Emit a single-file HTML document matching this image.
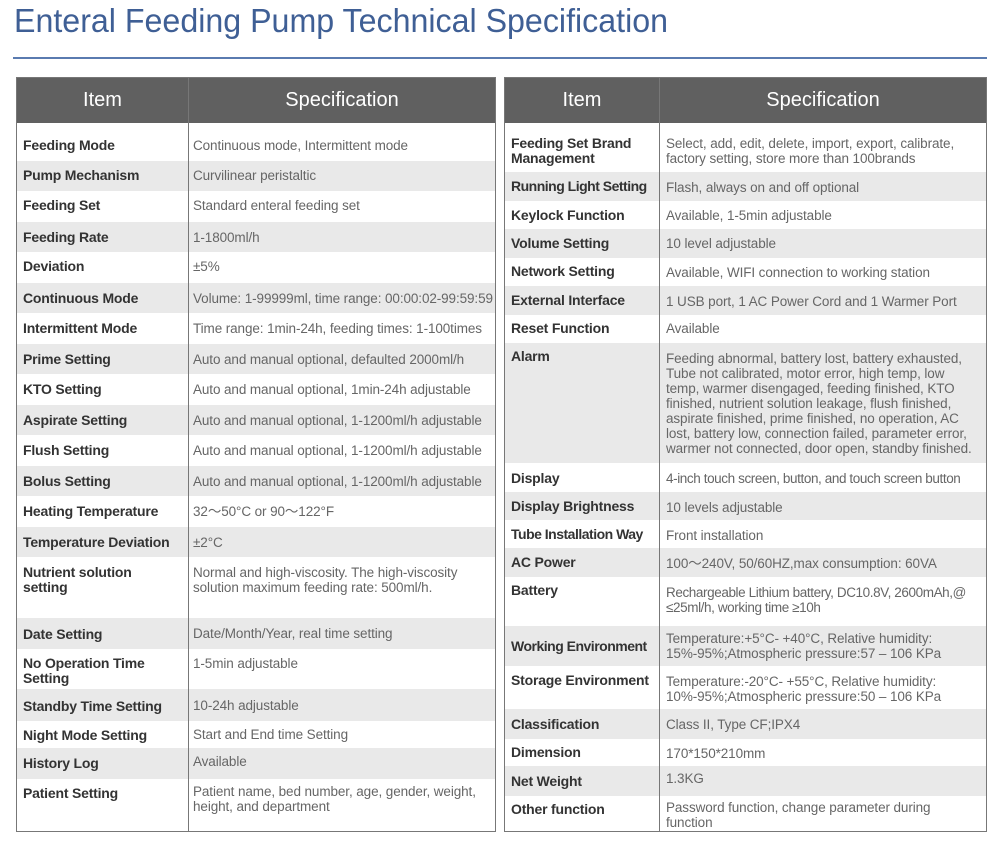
<!DOCTYPE html>
<html><head><meta charset="utf-8"><style>
body{margin:0;width:1000px;height:843px;background:#fff;position:relative;overflow:hidden;font-family:"Liberation Sans",sans-serif}
.title{position:absolute;left:14px;top:2px;font-size:33px;color:#3f5f95;white-space:nowrap;transform:scaleX(0.975);transform-origin:left top}
.rule{position:absolute;left:13px;top:57px;width:974px;height:2px;background:#5a7bb0}
.tbl{position:absolute;top:77px;height:755px;border:1px solid #777;box-sizing:border-box;background:#fff}
.hd{position:absolute;top:0;height:45px;background:#606060;color:#fff;font-size:20px;line-height:45px;text-align:center}
.row{position:absolute;left:0;right:0}
.g{background:#e9e9e9}
.k,.v{position:absolute;top:0;line-height:15px;white-space:nowrap}
.k{font-weight:bold;color:#333;font-size:14px;letter-spacing:-0.2px}
.v{color:#666;font-size:13.5px;letter-spacing:-0.1px}
.div{position:absolute;top:0;bottom:0;width:1px;background:#777}
</style></head><body>
<div class="title">Enteral Feeding Pump Technical Specification</div>
<div class="rule"></div>

<div class="tbl" style="left:16px;width:480px">
<div class="hd" style="left:0;width:171px">Item</div>
<div class="hd" style="left:172px;right:0">Specification</div>
<div class="row" style="top:45px;height:38px"><div class="k" style="left:6px;top:15px">Feeding Mode</div><div class="v" style="left:176px;top:15px">Continuous mode, Intermittent mode</div></div>
<div class="row g" style="top:83px;height:30px"><div class="k" style="left:6px;top:7px">Pump Mechanism</div><div class="v" style="left:176px;top:7px">Curvilinear peristaltic</div></div>
<div class="row" style="top:113px;height:31px"><div class="k" style="left:6px;top:7px">Feeding Set</div><div class="v" style="left:176px;top:7px">Standard enteral feeding set</div></div>
<div class="row g" style="top:144px;height:30px"><div class="k" style="left:6px;top:8px">Feeding Rate</div><div class="v" style="left:176px;top:8px">1-1800ml/h</div></div>
<div class="row" style="top:174px;height:31px"><div class="k" style="left:6px;top:7px">Deviation</div><div class="v" style="left:176px;top:7px">±5%</div></div>
<div class="row g" style="top:205px;height:30px"><div class="k" style="left:6px;top:8px">Continuous Mode</div><div class="v" style="left:176px;top:8px">Volume: 1-99999ml, time range: 00:00:02-99:59:59</div></div>
<div class="row" style="top:235px;height:31px"><div class="k" style="left:6px;top:8px">Intermittent Mode</div><div class="v" style="left:176px;top:8px">Time range: 1min-24h, feeding times: 1-100times</div></div>
<div class="row g" style="top:266px;height:30px"><div class="k" style="left:6px;top:8px">Prime Setting</div><div class="v" style="left:176px;top:8px">Auto and manual optional, defaulted 2000ml/h</div></div>
<div class="row" style="top:296px;height:31px"><div class="k" style="left:6px;top:8px">KTO Setting</div><div class="v" style="left:176px;top:8px">Auto and manual optional, 1min-24h adjustable</div></div>
<div class="row g" style="top:327px;height:30px"><div class="k" style="left:6px;top:8px">Aspirate Setting</div><div class="v" style="left:176px;top:8px">Auto and manual optional, 1-1200ml/h adjustable</div></div>
<div class="row" style="top:357px;height:31px"><div class="k" style="left:6px;top:8px">Flush Setting</div><div class="v" style="left:176px;top:8px">Auto and manual optional, 1-1200ml/h adjustable</div></div>
<div class="row g" style="top:388px;height:30px"><div class="k" style="left:6px;top:8px">Bolus Setting</div><div class="v" style="left:176px;top:8px">Auto and manual optional, 1-1200ml/h adjustable</div></div>
<div class="row" style="top:418px;height:31px"><div class="k" style="left:6px;top:8px">Heating Temperature</div><div class="v" style="left:176px;top:8px">32～50°C or 90～122°F</div></div>
<div class="row g" style="top:449px;height:30px"><div class="k" style="left:6px;top:8px">Temperature Deviation</div><div class="v" style="left:176px;top:8px">±2°C</div></div>
<div class="row" style="top:479px;height:61px"><div class="k" style="left:6px;top:8px">Nutrient solution<br>setting</div><div class="v" style="left:176px;top:8px">Normal and high-viscosity. The high-viscosity<br>solution maximum feeding rate: 500ml/h.</div></div>
<div class="row g" style="top:540px;height:31px"><div class="k" style="left:6px;top:9px">Date Setting</div><div class="v" style="left:176px;top:8px">Date/Month/Year, real time setting</div></div>
<div class="row" style="top:571px;height:40px"><div class="k" style="left:6px;top:7px">No Operation Time<br>Setting</div><div class="v" style="left:176px;top:7px">1-5min adjustable</div></div>
<div class="row g" style="top:611px;height:32px"><div class="k" style="left:6px;top:10px">Standby Time Setting</div><div class="v" style="left:176px;top:9px">10-24h adjustable</div></div>
<div class="row" style="top:643px;height:27px"><div class="k" style="left:6px;top:7px">Night Mode Setting</div><div class="v" style="left:176px;top:6px">Start and End time Setting</div></div>
<div class="row g" style="top:670px;height:31px"><div class="k" style="left:6px;top:8px">History Log</div><div class="v" style="left:176px;top:6px">Available</div></div>
<div class="row" style="top:701px;height:52px"><div class="k" style="left:6px;top:7px">Patient Setting</div><div class="v" style="left:176px;top:5px">Patient name, bed number, age, gender, weight,<br>height, and department</div></div>
<div class="div" style="left:171px"></div>
</div>

<div class="tbl" style="left:504px;width:483px">
<div class="hd" style="left:0;width:154px">Item</div>
<div class="hd" style="left:155px;right:0">Specification</div>
<div class="row" style="top:45px;height:49px"><div class="k" style="left:6px;top:13px">Feeding Set Brand<br>Management</div><div class="v" style="left:161px;top:13px">Select, add, edit, delete, import, export, calibrate,<br>factory setting, store more than 100brands</div></div>
<div class="row g" style="top:94px;height:29px"><div class="k" style="left:6px;top:7px;letter-spacing:-0.5px">Running Light Setting</div><div class="v" style="left:161px;top:8px">Flash, always on and off optional</div></div>
<div class="row" style="top:123px;height:28px"><div class="k" style="left:6px;top:7px">Keylock Function</div><div class="v" style="left:161px;top:7px">Available, 1-5min adjustable</div></div>
<div class="row g" style="top:151px;height:29px"><div class="k" style="left:6px;top:7px">Volume Setting</div><div class="v" style="left:161px;top:7px">10 level adjustable</div></div>
<div class="row" style="top:180px;height:28px"><div class="k" style="left:6px;top:6px">Network Setting</div><div class="v" style="left:161px;top:7px">Available, WIFI connection to working station</div></div>
<div class="row g" style="top:208px;height:29px"><div class="k" style="left:6px;top:7px">External Interface</div><div class="v" style="left:161px;top:8px">1 USB port, 1 AC Power Cord and 1 Warmer Port</div></div>
<div class="row" style="top:237px;height:28px"><div class="k" style="left:6px;top:6px">Reset Function</div><div class="v" style="left:161px;top:6px">Available</div></div>
<div class="row g" style="top:265px;height:120px"><div class="k" style="left:6px;top:6px">Alarm</div><div class="v" style="left:161px;top:8px">Feeding abnormal, battery lost, battery exhausted,<br>Tube not calibrated, motor error, high temp, low<br>temp, warmer disengaged, feeding finished, KTO<br>finished, nutrient solution leakage, flush finished,<br>aspirate finished, prime finished, no operation, AC<br>lost, battery low, connection failed, parameter error,<br>warmer not connected, door open, standby finished.</div></div>
<div class="row" style="top:385px;height:29px"><div class="k" style="left:6px;top:8px">Display</div><div class="v" style="left:161px;top:8px;letter-spacing:-0.4px">4-inch touch screen, button, and touch screen button</div></div>
<div class="row g" style="top:414px;height:28px"><div class="k" style="left:6px;top:7px">Display Brightness</div><div class="v" style="left:161px;top:8px">10 levels adjustable</div></div>
<div class="row" style="top:442px;height:28px"><div class="k" style="left:6px;top:7px;letter-spacing:-0.5px">Tube Installation Way</div><div class="v" style="left:161px;top:8px">Front installation</div></div>
<div class="row g" style="top:470px;height:29px"><div class="k" style="left:6px;top:7px">AC Power</div><div class="v" style="left:161px;top:8px">100～240V, 50/60HZ,max consumption: 60VA</div></div>
<div class="row" style="top:499px;height:49px"><div class="k" style="left:6px;top:6px">Battery</div><div class="v" style="left:161px;top:8px;letter-spacing:-0.4px">Rechargeable Lithium battery, DC10.8V, 2600mAh,@<br>≤25ml/h, working time ≥10h</div></div>
<div class="row g" style="top:548px;height:40px"><div class="k" style="left:6px;top:13px;letter-spacing:-0.5px">Working Environment</div><div class="v" style="left:161px;top:5px">Temperature:+5°C- +40°C, Relative humidity:<br>15%-95%;Atmospheric pressure:57 – 106 KPa</div></div>
<div class="row" style="top:588px;height:43px"><div class="k" style="left:6px;top:7px">Storage Environment</div><div class="v" style="left:161px;top:8px">Temperature:-20°C- +55°C, Relative humidity:<br>10%-95%;Atmospheric pressure:50 – 106 KPa</div></div>
<div class="row g" style="top:631px;height:30px"><div class="k" style="left:6px;top:8px">Classification</div><div class="v" style="left:161px;top:8px">Class II, Type CF;IPX4</div></div>
<div class="row" style="top:661px;height:27px"><div class="k" style="left:6px;top:6px">Dimension</div><div class="v" style="left:161px;top:7px">170*150*210mm</div></div>
<div class="row g" style="top:688px;height:30px"><div class="k" style="left:6px;top:8px">Net Weight</div><div class="v" style="left:161px;top:5px">1.3KG</div></div>
<div class="row" style="top:718px;height:37px"><div class="k" style="left:6px;top:6px">Other function</div><div class="v" style="left:161px;top:4px">Password function, change parameter during<br>function</div></div>
<div class="div" style="left:154px"></div>
</div>
</body></html>
